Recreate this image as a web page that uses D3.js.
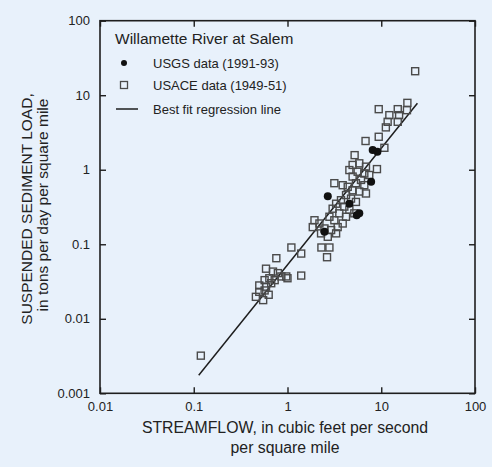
<!DOCTYPE html>
<html><head><meta charset="utf-8">
<script src="https://cdn.jsdelivr.net/npm/d3@7"></script>
<style>
html,body{margin:0;padding:0;background:#e8f1fb;}
svg{display:block;font-family:"Liberation Sans",Arial,sans-serif;}
</style></head>
<body><svg id="c" width="492" height="467"></svg>
<script>
// Data
const xTicks = [0.01, 0.1, 1, 10, 100];
const yTicks = [0.001, 0.01, 0.1, 1, 10, 100];
const xTickLabels = ["0.01", "0.1", "1", "10", "100"];
const yTickLabels = ["0.001", "0.01", "0.1", "1", "10", "100"];

// USACE data (1949-51): streamflow, sediment load
const usaceX = [23, 9.4, 19, 15, 12.2, 15.5, 11.7, 11.2, 15, 18.8, 6.8, 9.4, 10.8, 9.0, 5.2,
  4.95, 5.83, 6.87, 4.57, 5.6, 6.6, 7.45, 4.95, 6.08, 5.37, 6.6, 4.39, 4.95, 5.83, 6.87,
  3.88, 4.21, 4.76, 5.37, 3.72, 4.04, 4.57, 5.16, 3.3, 3.57, 4.21, 3.03, 2.8, 3.16, 3.88, 3.43, 3.16,
  1.94, 2.19, 1.86, 2.48, 2.92, 3.3, 2.69, 2.28,
  2.3, 2.8, 2.64, 1.1, 1.4, 1.4,
  0.76, 0.59, 0.70, 0.79, 0.86, 0.97, 0.64, 0.57, 0.50, 0.59, 0.67, 0.50, 0.57, 0.46, 0.55, 0.63, 0.73, 1.0,
  0.119];
const usaceY = [21, 6.5, 7.9, 6.5, 5.4, 5.4, 4.4, 3.7, 4.4, 6.3, 2.43, 2.77, 1.97, 1.02, 1.57,
  1.16, 1.22, 1.10, 0.99, 0.94, 0.89, 0.85, 0.81, 0.73, 0.66, 0.62, 0.59, 0.53, 0.51, 0.48,
  0.62, 0.457, 0.41, 0.37, 0.39, 0.32, 0.29, 0.26, 0.35, 0.26, 0.234, 0.30, 0.234, 0.21, 0.19, 0.17, 0.66,
  0.21, 0.19, 0.17, 0.163, 0.155, 0.14, 0.126, 0.14,
  0.0905, 0.0905, 0.067, 0.0905, 0.075, 0.038,
  0.065, 0.047, 0.043, 0.041, 0.037, 0.037, 0.035, 0.033, 0.028, 0.027, 0.030, 0.023, 0.024, 0.0197, 0.0178, 0.021, 0.033, 0.035,
  0.0032];

// USGS data (1991-93)
const usgsX = [2.69, 8.1, 9.1, 7.8, 5.47, 5.83, 2.48, 4.57];
const usgsY = [0.44, 1.84, 1.75, 0.69, 0.246, 0.26, 0.147, 0.35];

// Best fit regression line end points
const regX = [0.113, 24.3];
const regY = [0.00175, 7.8];

const svg = d3.select("#c");
const x = d3.scaleLog().domain([0.01, 100]).range([100, 475]);
const y = d3.scaleLog().domain([0.001, 100]).range([393.3, 20.7]);

const ink = "#1e1e1e";

// frame
svg.append("rect").attr("x", 100).attr("y", 20.7).attr("width", 375).attr("height", 372.6)
  .attr("fill", "none").attr("stroke", ink).attr("stroke-width", 1.6);

// axes (ticks inward on all sides)
const fmtX = (d) => xTickLabels[xTicks.indexOf(d)];
const fmtY = (d) => yTickLabels[yTicks.indexOf(d)];
const axB = svg.append("g").attr("transform", "translate(0,393.3)")
  .call(d3.axisBottom(x).tickValues(xTicks).tickFormat(fmtX).tickSizeInner(-6).tickSizeOuter(0).tickPadding(8));
const axT = svg.append("g").attr("transform", "translate(0,20.7)")
  .call(d3.axisTop(x).tickValues(xTicks).tickFormat("").tickSizeInner(-6).tickSizeOuter(0));
const axL = svg.append("g").attr("transform", "translate(100,0)")
  .call(d3.axisLeft(y).tickValues(yTicks).tickFormat(fmtY).tickSizeInner(-6).tickSizeOuter(0).tickPadding(8));
const axR = svg.append("g").attr("transform", "translate(475,0)")
  .call(d3.axisRight(y).tickValues(yTicks).tickFormat("").tickSizeInner(-6).tickSizeOuter(0));
[axB, axT, axL, axR].forEach(a => {
  a.select(".domain").remove();
  a.selectAll("line").attr("stroke", ink).attr("stroke-width", 1.4);
  a.selectAll("text").attr("fill", "#222").attr("font-size", 13).attr("font-family", "Liberation Sans, Arial, sans-serif");
});
axL.selectAll("text").attr("dx", "-2");

// regression line
svg.append("line")
  .attr("x1", x(regX[0])).attr("y1", y(regY[0]))
  .attr("x2", x(regX[1])).attr("y2", y(regY[1]))
  .attr("stroke", ink).attr("stroke-width", 1.5);

// USACE squares
const sq = 7;
svg.append("g").selectAll("rect").data(d3.range(usaceX.length)).join("rect")
  .attr("x", i => x(usaceX[i]) - sq / 2).attr("y", i => y(usaceY[i]) - sq / 2)
  .attr("width", sq).attr("height", sq)
  .attr("fill", "none").attr("stroke", "#4a4a4a").attr("stroke-width", 1.4);

// USGS circles
svg.append("g").selectAll("circle").data(d3.range(usgsX.length)).join("circle")
  .attr("cx", i => x(usgsX[i])).attr("cy", i => y(usgsY[i])).attr("r", 4)
  .attr("fill", "#111");

// legend
const lg = svg.append("g").attr("fill", "#222");
lg.append("text").attr("x", 115).attr("y", 44).attr("font-size", 15.5).text("Willamette River at Salem");
lg.append("circle").attr("cx", 124).attr("cy", 63).attr("r", 3).attr("fill", "#111");
lg.append("text").attr("x", 153).attr("y", 67.5).attr("font-size", 13).text("USGS data (1991-93)");
lg.append("rect").attr("x", 120.5).attr("y", 81.5).attr("width", 7).attr("height", 7)
  .attr("fill", "none").attr("stroke", "#4a4a4a").attr("stroke-width", 1.3);
lg.append("text").attr("x", 153).attr("y", 89.5).attr("font-size", 13).text("USACE data (1949-51)");
lg.append("line").attr("x1", 116).attr("x2", 138).attr("y1", 109).attr("y2", 109)
  .attr("stroke", ink).attr("stroke-width", 1.5);
lg.append("text").attr("x", 153).attr("y", 113.5).attr("font-size", 13).text("Best fit regression line");

// axis titles
svg.append("text").attr("x", 285).attr("y", 433).attr("text-anchor", "middle")
  .attr("font-size", 15.8).attr("fill", "#222").text("STREAMFLOW, in cubic feet per second");
svg.append("text").attr("x", 285).attr("y", 453).attr("text-anchor", "middle")
  .attr("font-size", 15.8).attr("fill", "#222").text("per square mile");
svg.append("text").attr("transform", "translate(32,209) rotate(-90)").attr("text-anchor", "middle")
  .attr("font-size", 15.5).attr("fill", "#222").text("SUSPENDED SEDIMENT LOAD,");
svg.append("text").attr("transform", "translate(48,205) rotate(-90)").attr("text-anchor", "middle")
  .attr("font-size", 15.5).attr("fill", "#222").text("in tons per day per square mile");
</script></body></html>
